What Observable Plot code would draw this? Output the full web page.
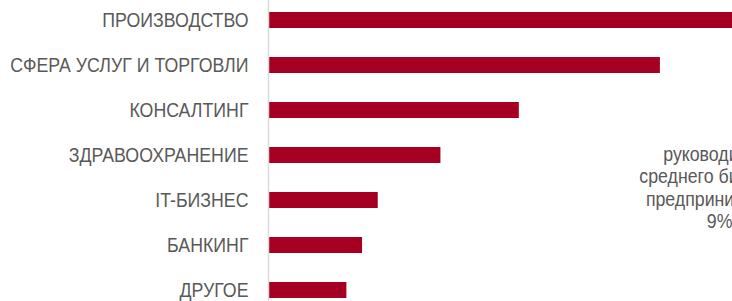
<!DOCTYPE html>
<html>
<head>
<meta charset="utf-8">
<script src="https://cdn.jsdelivr.net/npm/d3@7"></script>
<script src="https://cdn.jsdelivr.net/npm/@observablehq/plot@0.6"></script>
<style>
  html, body { margin: 0; padding: 0; background: #fff; overflow: hidden; }
</style>
</head>
<body>
<div id="chart"></div>
<script>
const categories = ["ПРОИЗВОДСТВО", "СФЕРА УСЛУГ И ТОРГОВЛИ", "КОНСАЛТИНГ", "ЗДРАВООХРАНЕНИЕ", "IT-БИЗНЕС", "БАНКИНГ", "ДРУГОЕ"];
const values = [30, 25, 16, 11, 7, 6, 5];
const noteText = "руководители\nсреднего бизнеса и\nпредприниматели\n9%";

const data = categories.map((c, i) => ({category: c, value: values[i]}));

const chart = Plot.plot({
  width: 732,
  height: 301,
  marginLeft: 268,
  marginRight: 0,
  marginTop: 0,
  marginBottom: 0,
  style: {fontFamily: '"Liberation Sans", Arial, sans-serif', background: "#fff"},
  x: {domain: [0, 29.6], axis: null},
  y: {domain: categories, range: [-2.5, 312.5], paddingInner: 0.644, paddingOuter: 0.322, label: null},
  marks: [
    Plot.barX(data, {x: "value", y: "category", fill: "#a50021", clip: true}),
    Plot.ruleX([0], {stroke: "#d9d9d9", strokeWidth: 1.5}),
    Plot.axisY({tickSize: 0, tickPadding: 20, fontSize: 21, fill: "#595959", label: null}),
    Plot.text([noteText], {x: 28.78, y: ["IT-БИЗНЕС"], text: d => d, dy: -13, fontSize: 21, fill: "#595959", lineHeight: 1.07, textAnchor: "middle"})
  ]
});
// condensed look (narrow font): compress glyphs horizontally around each text's anchor
d3.select(chart).selectAll("text").each(function() {
  const t = d3.select(this);
  const tr = t.attr("transform");
  if (tr) {
    t.attr("transform", tr + " scale(0.845,1)");
  } else {
    const x = +t.attr("x") || 0, y = +t.attr("y") || 0;
    t.attr("x", null).attr("y", null).attr("transform", `translate(${x},${y}) scale(0.845,1)`);
  }
});
document.getElementById("chart").appendChild(chart);
</script>
</body>
</html>
